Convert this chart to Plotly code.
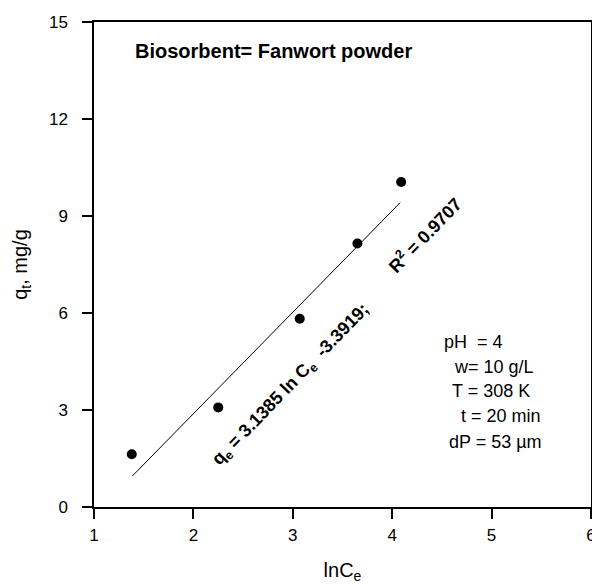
import plotly.graph_objects as go

# Experimental points: ln(Ce) vs adsorbed amount q_t (mg/g)
ln_ce = [1.38, 2.25, 3.07, 3.65, 4.09]
q_t = [1.63, 3.08, 5.82, 8.15, 10.05]

# Linear fit q_e = a ln C_e + b
slope = 3.1385
intercept = -3.3919
r_squared = 0.9707
fit_x = [1.385, 4.08]
fit_y = [slope * x + intercept for x in fit_x]

x_ticks = [1, 2, 3, 4, 5, 6]
y_ticks = [0, 3, 6, 9, 12, 15]

conditions = [
    ("pH &nbsp;= 4", 4.50, 5.10),
    ("w= 10 g/L", 4.60, 4.33),
    ("T = 308 K", 4.58, 3.59),
    ("t = 20 min", 4.67, 2.81),
    ("dP = 53 \u00b5m", 4.55, 2.01),
]

FONT = "Liberation Sans, Arial, sans-serif"

fig = go.Figure()
fig.add_trace(go.Scatter(
    x=fit_x, y=fit_y, mode="lines",
    line=dict(color="black", width=1), showlegend=False,
))
fig.add_trace(go.Scatter(
    x=ln_ce, y=q_t, mode="markers",
    marker=dict(color="black", size=10), showlegend=False,
))

annotations = [
    dict(x=1.392, y=14.10, text="<b>Biosorbent= Fanwort powder</b>",
         xanchor="left", yanchor="middle", showarrow=False,
         font=dict(size=20, color="black", family=FONT)),
    dict(x=2.99, y=3.78,
         text=f"<b>q<sub>e</sub> = {slope} ln C<sub>e</sub> &nbsp;{intercept};</b>",
         textangle=-46, xanchor="center", yanchor="middle", showarrow=False,
         font=dict(size=18, color="black", family=FONT)),
    dict(x=4.33, y=8.42,
         text=f"<b>R<sup>2</sup> = {r_squared}</b>",
         textangle=-46, xanchor="center", yanchor="middle", showarrow=False,
         font=dict(size=18, color="black", family=FONT)),
]
for text, x, y in conditions:
    annotations.append(dict(
        x=x, y=y, text=text, xanchor="left", yanchor="middle", showarrow=False,
        font=dict(size=18, color="black", family=FONT)))

axis_common = dict(
    showgrid=False, zeroline=False, showline=True, linecolor="black",
    linewidth=1.5, mirror=True, ticks="outside", ticklen=10, tickwidth=1.5,
    tickcolor="black", tickfont=dict(size=17, color="black", family=FONT),
    automargin=False,
)

fig.update_layout(
    width=592, height=584,
    margin=dict(l=94, r=1, t=22, b=77),
    plot_bgcolor="white", paper_bgcolor="white",
    xaxis=dict(range=[1, 6], tickvals=x_ticks, ticklabelstandoff=2,
               ticklabeloverflow="allow",
               title=dict(text="lnC<sub>e</sub>", standoff=20,
                          font=dict(size=20, color="black", family=FONT)),
               **axis_common),
    yaxis=dict(range=[0, 15], tickvals=y_ticks, ticklabelstandoff=11,
               title=dict(text="q<sub>t</sub>, mg/g", standoff=16,
                          font=dict(size=20, color="black", family=FONT)),
               **axis_common),
    annotations=annotations,
)

fig.write_html("out.html")
